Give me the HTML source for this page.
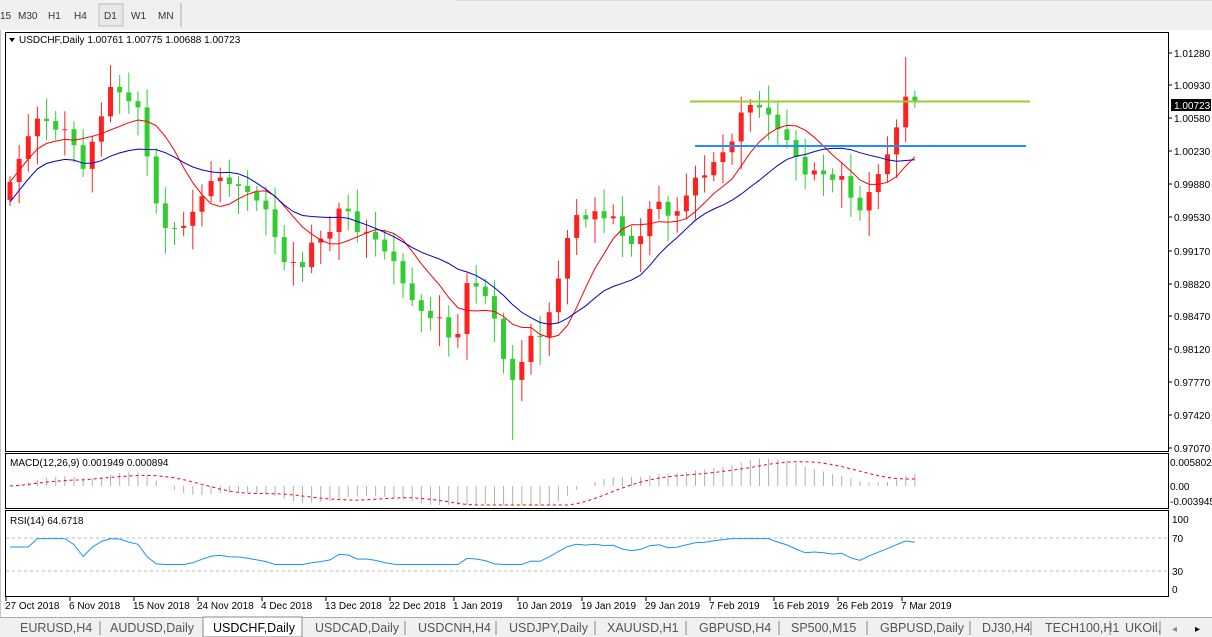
<!DOCTYPE html>
<html><head><meta charset="utf-8"><style>
body{margin:0;width:1212px;height:637px;background:#fff;overflow:hidden;font-family:"Liberation Sans",sans-serif;}
svg{position:absolute;left:0;top:0}
text{font-family:"Liberation Sans",sans-serif;font-size:10px}
</style></head><body>
<svg id="s" width="1212" height="637" xmlns="http://www.w3.org/2000/svg"></svg>
<script>
const S=document.getElementById('s');let h='';
h+='<rect x="0" y="0" width="1212" height="30" fill="#f0f0f0"/><line x1="181" y1="3" x2="181" y2="27" stroke="#aaa"/><line x1="455" y1="0" x2="1212" y2="0" stroke="#ccc"/>';
h+='<rect x="99" y="4" width="24" height="22" fill="#e8e8e8" stroke="#bbb"/>';
[['15',0],['M30',18],['H1',48],['H4',74],['D1',104],['W1',131],['MN',158]].forEach(t=>h+=`<text x="${t[1]}" y="19" fill="#333">${t[0]}</text>`);
h+='<rect x="0" y="30" width="1212" height="588" fill="#fff"/><line x1="0" y1="30" x2="0" y2="618" stroke="#888"/>';
h+='<rect x="5.5" y="32.5" width="1163" height="419" fill="none" stroke="#000"/>';
h+='<rect x="5.5" y="453.5" width="1163" height="55" fill="none" stroke="#000"/>';
h+='<rect x="5.5" y="510.5" width="1163" height="86" fill="none" stroke="#000"/>';
[['1.01280',53],['1.00930',85],['1.00580',118],['1.00230',151],['0.99880',184],['0.99530',217],['0.99170',251],['0.98820',284],['0.98470',316],['0.98120',349],['0.97770',382],['0.97420',415],['0.97070',448]].forEach(a=>{h+=`<line x1="1168" y1="${a[1]}" x2="1172" y2="${a[1]}" stroke="#000"/><text x="1174" y="${a[1]+4}" fill="#000">${a[0]}</text>`});
h+='<rect x="1171" y="99" width="40" height="12" fill="#000"/><text x="1174" y="109" fill="#fff">1.00723</text>';
h+='<text x="1170" y="466" fill="#000">0.005802</text><text x="1170" y="490" fill="#000">0.00</text><text x="1170" y="505" fill="#000">-0.003945</text>';
[['100',519],['70',538],['30',571],['0',589]].forEach(a=>h+=`<text x="1172" y="${a[1]+4}" fill="#000">${a[0]}</text>`);
const kp=[[10,190],[22,150],[30,130],[45,120],[60,130],[72,140],[85,170],[98,125],[110,90],[122,95],[130,100],[142,115],[150,180],[165,230],[178,225],[190,220],[200,195],[210,185],[225,175],[240,190],[260,195],[280,250],[300,270],[315,245],[330,230],[345,205],[360,235],[380,240],[400,275],[415,310],[440,320],[455,350],[465,285],[480,285],[490,300],[500,345],[515,390],[530,330],[540,340],[550,310],[560,265],[575,215],[590,210],[610,220],[625,240],[640,245],[655,190],[670,225],[690,185],[710,170],[730,145],[745,105],[760,105],[775,125],[790,140],[800,170],[820,175],[840,175],[852,200],[862,205],[875,185],[885,150],[895,135],[905,95],[918,102]];
function yAt(x){for(let i=0;i<kp.length-1;i++){if(x<=kp[i+1][0]){const t=(x-kp[i][0])/(kp[i+1][0]-kp[i][0]);return kp[i][1]+t*(kp[i+1][1]-kp[i][1]);}}return kp[kp.length-1][1];}
const xs=[],cl=[];let n=0;for(let x=10;x<=919;x+=9.14){xs.push(x);const j=((n*37)%11-5)*1.6;cl.push(yAt(x)+j*(n%3==0?1:0.4));n++;}
cl[cl.length-1]=102;
let prev=200;
for(let i=0;i<xs.length;i++){const o=prev,c=cl[i];const up=c<o;const col=up?'#ff2020':'#32cd32';const hi=Math.min(o,c)-6-((i*13)%9)*2,lo=Math.max(o,c)+6+((i*7)%11)*2.2;
let H=hi,L=lo;if(i==xs.length-2){H=57}if(Math.abs(xs[i]-515)<5)L=440;
const x=xs[i];h+=`<line x1="${x}" y1="${H}" x2="${x}" y2="${L}" stroke="${col}"/>`;h+=`<rect x="${x-2.5}" y="${Math.min(o,c)}" width="5" height="${Math.max(1,Math.abs(c-o))}" fill="${col}"/>`;prev=c;}
function ema(a,p){const k=2/(p+1);let e=a[0];return a.map(v=>e=e+k*(v-e));}
function sma(a,p){return a.map((v,i)=>{let s=0,c=0;for(let j=Math.max(0,i-p+1);j<=i;j++){s+=a[j];c++}return s/c;});}
const m1=sma(cl,8);const m2b=sma(cl.map((v,i)=>i<15?v+20:v),16);
const pl=(a,col)=>{let d='';a.forEach((v,i)=>d+=(i?'L':'M')+xs[i].toFixed(1)+' '+v.toFixed(1));h+=`<path d="${d}" fill="none" stroke="${col}"/>`};
pl(m1,'#ff0000');pl(m2b,'#0000cc');
h+='<line x1="690" y1="101.5" x2="1030" y2="101.5" stroke="#9acd32" stroke-width="2"/><line x1="695" y1="146" x2="1026" y2="146" stroke="#1e90ff" stroke-width="2"/>';
const pr=cl.map(v=>-v);const e12=ema(pr,12),e26=ema(pr,26);const mac=e12.map((v,i)=>v-e26[i]);const sig=sma(mac,9);
const MY=v=>486-v*0.7;const cl2=v=>Math.max(457,Math.min(505,v));
mac.forEach((v,i)=>{h+=`<line x1="${xs[i]}" y1="486" x2="${xs[i]}" y2="${cl2(MY(v))}" stroke="#b0b0b0"/>`});
let d='';sig.forEach((v,i)=>d+=(i?'L':'M')+xs[i].toFixed(1)+' '+cl2(MY(v)).toFixed(1));h+=`<path d="${d}" fill="none" stroke="#ff0000" stroke-dasharray="3,3"/>`;
h+='<text x="10" y="466" fill="#000">MACD(12,26,9) 0.001949 0.000894</text>';
h+='<line x1="6" y1="538" x2="1168" y2="538" stroke="#bbb" stroke-dasharray="3,3"/><line x1="6" y1="571" x2="1168" y2="571" stroke="#bbb" stroke-dasharray="3,3"/>';
let g=0,l=0;const rs=[];for(let i=0;i<cl.length;i++){const ch=i?cl[i-1]-cl[i]:0;const k=1/14;g=g+(Math.max(ch,0)-g)*k;l=l+(Math.max(-ch,0)-l)*k;rs.push(i<3?60:100-100/(1+g/(l||1e-6)));}
d='';rs.forEach((v,i)=>{const y=589-Math.max(35,Math.min(72,v))*0.7;d+=(i?'L':'M')+xs[i].toFixed(1)+' '+y.toFixed(1)});h+=`<path d="${d}" fill="none" stroke="#1e90ff"/>`;
h+='<text x="10" y="524" fill="#000">RSI(14) 64.6718</text>';
h+='<path d="M9 38 L15 38 L12 42Z" fill="#000"/><text x="19" y="43" fill="#000">USDCHF,Daily  1.00761 1.00775 1.00688 1.00723</text>';
['27 Oct 2018','6 Nov 2018','15 Nov 2018','24 Nov 2018','4 Dec 2018','13 Dec 2018','22 Dec 2018','1 Jan 2019','10 Jan 2019','19 Jan 2019','29 Jan 2019','7 Feb 2019','16 Feb 2019','26 Feb 2019','7 Mar 2019'].forEach((t,i)=>{const x=6+i*64;h+=`<line x1="${x}" y1="597" x2="${x}" y2="601" stroke="#000"/><text x="${x-1}" y="609" fill="#000">${t}</text>`});
h+='<rect x="0" y="617" width="1212" height="20" fill="#f0f0f0"/><line x1="0" y1="617.5" x2="1212" y2="617.5" stroke="#aaa"/>';
const tabs=[['EURUSD,H4',20,100],['AUDUSD,Daily',110,203],['USDCHF,Daily',213,302],['USDCAD,Daily',315,405],['USDCNH,H4',418,496],['USDJPY,Daily',509,595],['XAUUSD,H1',607,686],['GBPUSD,H4',699,779],['SP500,M15',791,867],['GBPUSD,Daily',880,970],['DJ30,H4',982,1031],['TECH100,H1',1045,1110],['UKOil,',1125,1160]];
h+='<rect x="203" y="617" width="99" height="20" fill="#fff" stroke="#888"/>';
tabs.forEach(t=>{h+=`<text x="${t[1]}" y="632" style="font-size:12.5px" fill="${t[0]=='USDCHF,Daily'?'#000':'#555'}">${t[0]}</text><line x1="${t[2]}" y1="621" x2="${t[2]}" y2="635" stroke="#888"/>`});
h+='<text x="1172" y="632" fill="#888">◂</text><text x="1195" y="632" fill="#000">▸</text>';
S.innerHTML=h;
</script>
</body></html>
